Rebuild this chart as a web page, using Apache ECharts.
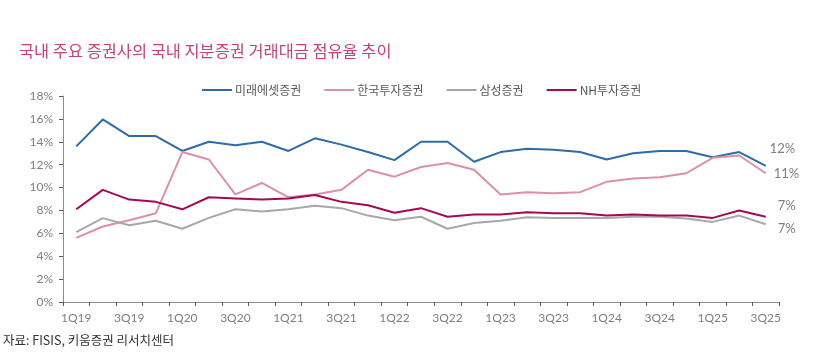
<!DOCTYPE html>
<html><head><meta charset="utf-8">
<script src="https://cdn.jsdelivr.net/npm/echarts@6/dist/echarts.min.js"></script>
<style>html,body{margin:0;padding:0;background:#fff}#c{width:819px;height:357px}</style>
</head><body><div id="c"></div>
<script>
const categories = ['1Q19','2Q19','3Q19','4Q19','1Q20','2Q20','3Q20','4Q20','1Q21','2Q21','3Q21','4Q21','1Q22','2Q22','3Q22','4Q22','1Q23','2Q23','3Q23','4Q23','1Q24','2Q24','3Q24','4Q24','1Q25','2Q25','3Q25'];
const mirae = [13.6,15.95,14.5,14.5,13.2,14.0,13.7,14.0,13.2,14.3,13.75,13.1,12.4,14.0,14.0,12.25,13.1,13.4,13.3,13.1,12.45,13.0,13.2,13.2,12.65,13.1,11.9];
const korea = [5.6,6.6,7.15,7.75,13.1,12.45,9.4,10.4,9.15,9.4,9.8,11.55,10.95,11.8,12.15,11.55,9.4,9.6,9.5,9.6,10.5,10.8,10.9,11.25,12.6,12.8,11.25];
const samsung = [6.1,7.33,6.7,7.1,6.4,7.35,8.1,7.9,8.1,8.4,8.2,7.55,7.15,7.45,6.4,6.9,7.1,7.4,7.35,7.35,7.35,7.45,7.45,7.3,7.0,7.55,6.8];
const nh = [8.1,9.8,8.95,8.75,8.1,9.15,9.05,8.95,9.05,9.35,8.75,8.45,7.8,8.2,7.45,7.65,7.65,7.85,7.75,7.75,7.55,7.65,7.55,7.55,7.35,8.0,7.45];
const seriesNames = ['미래에셋증권','한국투자증권','삼성증권','NH투자증권'];
const yTicks = {min:0, max:18, interval:2};

const colors = ['#2d6ca8','#dc8fab','#a8a8a8','#a20a55'];
const labelOffsets = [[4,-17],[8,1],[12,5],[12,-11]];
const dataSets = [mirae, korea, samsung, nh];
const font = 'Lato, "Noto Sans", sans-serif';
const kfont = '"Noto Sans CJK KR", sans-serif';

const chart = echarts.init(document.getElementById('c'), null, {renderer:'canvas'});
chart.setOption({
  animation:false,
  color: colors,
  title:{text:'국내 주요 증권사의 국내 지분증권 거래대금 점유율 추이', left:14, top:38,
    textStyle:{color:'#c4427c', fontSize:16.4, fontWeight:'normal', fontFamily:kfont}},
  legend:{left:197, top:79, itemWidth:30, itemHeight:2, itemGap:23, icon:'rect',
    data: seriesNames,
    textStyle:{color:'#595959', fontSize:12, fontFamily:kfont, padding:[0,0,0,-2]}},
  grid:{left:63, right:40, top:96, bottom:55, containLabel:false},
  xAxis:{type:'category', data:categories, boundaryGap:true,
    axisLine:{lineStyle:{color:'#8c8c8c', width:1}},
    axisTick:{show:true, interval:0, length:4, lineStyle:{color:'#595959'}},
    axisLabel:{interval:1, color:'#7f7f7f', fontSize:12, fontFamily:font, margin:10}},
  yAxis:{type:'value', min:yTicks.min, max:yTicks.max, interval:yTicks.interval,
    splitLine:{show:false},
    axisLine:{show:true, lineStyle:{color:'#8c8c8c'}},
    axisTick:{show:true, length:4, lineStyle:{color:'#595959'}},
    axisLabel:{color:'#7f7f7f', fontSize:12, fontFamily:font, margin:10, formatter:v=>v+'%'}},
  graphic:[{type:'text', left:3, top:334, style:{text:'자료: FISIS, 키움증권 리서치센터', fill:'#333', fontSize:12.5, fontFamily:kfont}}],
  series: seriesNames.map((n,i)=>({
    name:n, type:'line', data:dataSets[i], symbol:'none', smooth:false,
    lineStyle:{width:2, color:colors[i]},
    endLabel:{show:true, distance:0, offset:labelOffsets[i], color:'#7f7f7f', fontSize:13, fontFamily:font,
      formatter:p=>Math.round(p.value)+'%'}
  }))
});
</script></body></html>
